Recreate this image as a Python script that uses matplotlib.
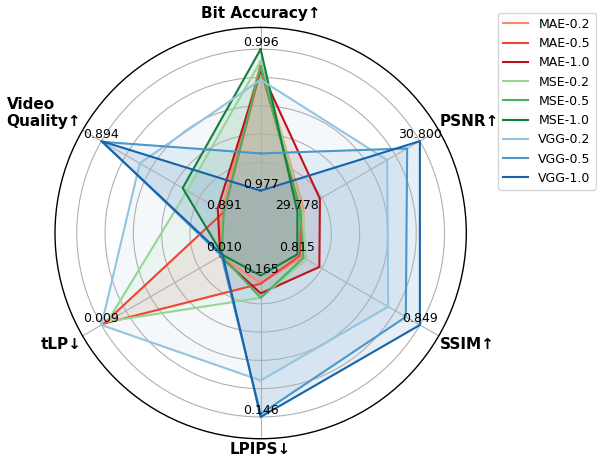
import numpy as np
import matplotlib.pyplot as plt

# metrics around the radar (clockwise from top)
metrics = ['Bit Accuracy↑', 'PSNR↑', 'SSIM↑', 'LPIPS↓', 'tLP↓', 'Video\nQuality↑']
# value shown at the centre (worst) and at the outer ring (best)
worst = [0.977, 29.778, 0.815, 0.165, 0.010, 0.891]
best = [0.996, 30.800, 0.849, 0.146, 0.009, 0.894]

names = ['MAE-0.2', 'MAE-0.5', 'MAE-1.0',
         'MSE-0.2', 'MSE-0.5', 'MSE-1.0',
         'VGG-0.2', 'VGG-0.5', 'VGG-1.0']

# raw scores, order: bit acc, psnr, ssim, lpips, tlp, video quality
mae_02 = [0.9941, 29.829, 0.8164, 0.1640, 0.00997, 0.89106]
mae_05 = [0.9933, 29.809, 0.8157, 0.1639, 0.00902, 0.89100]
mae_10 = [0.9932, 29.966, 0.8211, 0.1626, 0.00997, 0.89115]
mse_02 = [0.9944, 29.819, 0.8175, 0.1620, 0.00905, 0.89190]
mse_05 = [0.9937, 29.798, 0.8167, 0.1620, 0.00998, 0.89100]
mse_10 = [0.9960, 29.778, 0.8150, 0.1650, 0.00999, 0.89201]
vgg_02 = [0.9919, 30.527, 0.8402, 0.1509, 0.00900, 0.89306]
vgg_05 = [0.9820, 30.694, 0.8451, 0.1464, 0.00998, 0.89397]
vgg_10 = [0.9770, 30.800, 0.8490, 0.1460, 0.00999, 0.89400]
scores = [mae_02, mae_05, mae_10, mse_02, mse_05, mse_10, vgg_02, vgg_05, vgg_10]

colors = [plt.cm.Reds(0.4), plt.cm.Reds(0.6), plt.cm.Reds(0.8),
          plt.cm.Greens(0.4), plt.cm.Greens(0.6), plt.cm.Greens(0.8),
          plt.cm.Blues(0.4), plt.cm.Blues(0.6), plt.cm.Blues(0.8)]

n = len(metrics)
angles = np.linspace(0, 2 * np.pi, n, endpoint=False)
lo = np.array(worst)
hi = np.array(best)

fig = plt.figure(figsize=(5.97, 4.57), dpi=100)
ax = fig.add_axes([0.0921, 0.040, 0.689, 0.900], polar=True)
ax.set_theta_offset(np.pi / 2)
ax.set_theta_direction(-1)

for name, vals, c in zip(names, scores, colors):
    norm = (np.array(vals) - lo) / (hi - lo)
    a = np.append(angles, angles[0])
    r = np.append(norm, norm[0])
    ax.plot(a, r, color=c, lw=1.5, label=name)
    ax.fill(a, r, color=c, alpha=0.1)

ax.set_ylim(-0.3, 1.154)
ax.set_yticks([-0.2, 0, 0.2, 0.4, 0.6, 0.8, 1.0])
ax.set_yticklabels([])
ax.set_xticks(angles)
ax.set_xticklabels([])
ax.grid(color='#b0b0b0', lw=0.8)
ax.spines['polar'].set_linewidth(1.0)

# min / max values on each spoke
for ang, w, b in zip(angles, worst, best):
    fw = '%.3f' % w
    fb = '%.3f' % b
    ax.text(ang, 0, fw, ha='center', va='bottom', fontsize=9)
    ax.text(ang, 1, fb, ha='center', va='bottom', fontsize=9)

# metric names outside the ring
label_pos = [(1.20, 'center', 'bottom'), (1.165, 'left', 'bottom'),
             (1.165, 'left', 'top'), (1.18, 'center', 'top'),
             (1.165, 'right', 'top'), (1.165, 'right', 'bottom')]
for ang, m, (rr, h, v) in zip(angles, metrics, label_pos):
    ax.text(ang, rr, m, ha=h, va=v, fontsize=11, fontweight='bold',
            multialignment='left')

ax.legend(loc='upper right', bbox_to_anchor=(0.998, 0.972),
          bbox_transform=fig.transFigure, borderaxespad=0, fontsize=9)

fig.savefig('out.png', dpi=100)
